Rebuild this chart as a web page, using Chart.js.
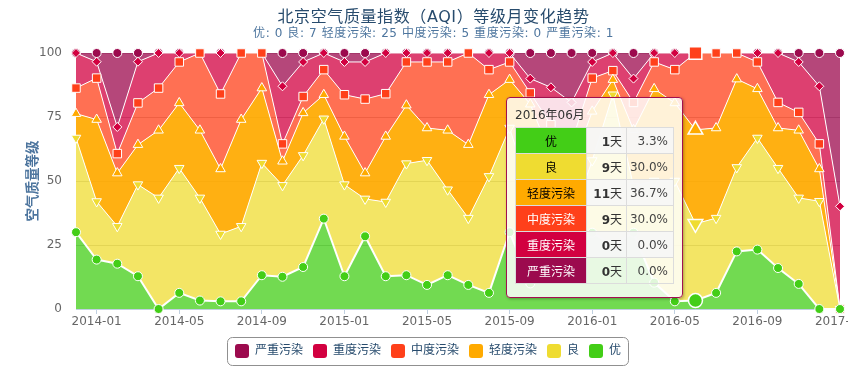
<!DOCTYPE html>
<html>
<head>
<meta charset="utf-8">
<script src="https://cdn.jsdelivr.net/npm/chart.js@4.4.1/dist/chart.umd.min.js"></script>
<style>
  html, body { margin: 0; padding: 0; background: #fff; }
  #wrap { position: relative; width: 867px; height: 376px; overflow: hidden; }
  #chart { position: absolute; left: 0; top: 0; }
  .txt { font-family: "DejaVu Sans", "Noto Sans CJK SC", sans-serif; }
  #title { position: absolute; left: 0; top: 7px; width: 867px; text-align: center; letter-spacing: 0.6px;
           font-size: 16px; line-height: 20px; color: #274b6d; white-space: nowrap; }
  #subtitle { position: absolute; left: 0; top: 25px; width: 867px; text-align: center; letter-spacing: 0.6px;
              font-size: 12px; line-height: 16px; color: #4d759e; white-space: nowrap; }
  #tip { position: absolute; left: 506px; top: 97px; width: 177px; height: 201px; box-sizing: border-box;
         border: 1px solid #a3104f; border-radius: 4px; background: rgba(255,255,255,0.84);
         box-shadow: 1px 1px 3px rgba(0,0,0,0.3); font-size: 12px; color: #333; }
  #tipTitle { position: absolute; left: 8px; top: 8px; line-height: 18px; color: #333; }
  #tipTable { position: absolute; left: 8px; top: 29px; border-collapse: collapse; }
  #tipTable td { border: 1px solid #dcdcdc; height: 26px; padding: 0; box-sizing: border-box; }
  #tipTable td.nm { width: 71px; text-align: center; }
  #tipTable td.dy { width: 40px; text-align: right; padding-right: 4px; color: #333; }
  #tipTable td.pc { width: 47px; text-align: right; padding-right: 5px; color: #444; }
  #tipTable tr:nth-child(odd) td.dy, #tipTable tr:nth-child(odd) td.pc { background: rgba(246,246,246,0.92); }
</style>
</head>
<body>
<div id="wrap">
  <canvas id="chart" width="867" height="376"></canvas>
  <div id="title" class="txt">北京空气质量指数（AQI）等级月变化趋势</div>
  <div id="subtitle" class="txt">优: 0 良: 7 轻度污染: 25 中度污染: 5 重度污染: 0 严重污染: 1</div>
  <div id="tip" class="txt"><div id="tipTitle"></div><table id="tipTable"></table></div>
</div>
<script>
// ---- data (percent of days in each month) ----
const months = ['2013-12','2014-01','2014-02','2014-03','2014-04','2014-05','2014-06','2014-07','2014-08','2014-09',
  '2014-10','2014-11','2014-12','2015-01','2015-02','2015-03','2015-04','2015-05','2015-06','2015-07',
  '2015-08','2015-09','2015-10','2015-11','2015-12','2016-01','2016-02','2016-03','2016-04','2016-05',
  '2016-06','2016-07','2016-08','2016-09','2016-10','2016-11','2016-12','2017-01'];
const excellent = [30, 19.3, 17.7, 12.8, 0, 6.3, 3.3, 3.0, 3.0, 13.2, 12.6, 16.4, 35.3, 12.8, 28.4, 12.8, 13.2, 9.4, 13.2, 9.4,
  6.3, 30, 10, 15, 20, 29.8, 25, 29.8, 10.3, 3.0, 3.3, 6.3, 22.5, 23.2, 16, 9.8, 0, 0];
const good = [36.8, 22.7, 14.6, 35.8, 43.4, 48.7, 40.1, 26.3, 29.3, 43.8, 35.7, 43.6, 39.0, 35.8, 14.6, 29.0, 43.6, 48.7, 33.4, 26.1,
  45.5, 40.7, 35, 20, 15, 28.2, 58.7, 18.2, 39.7, 47, 30.0, 29.2, 32.8, 43.6, 39, 33.6, 42.1, 0];
const lightPollution = [9.5, 32.0, 20.8, 15.6, 26.4, 25.5, 26.4, 25.4, 41.7, 29.3, 9.4, 16.6, 9.4, 18.8, 10.1, 25.6, 22.8, 12.6, 23.2, 28.7,
  31.9, 18.9, 35, 25, 20, 19.2, 5.9, 22, 36, 30.5, 36.7, 35.2, 34.5, 19.2, 15.7, 26.4, 12.6, 0];
const moderatePollution = [10.0, 16.2, 7.6, 16.3, 16.5, 16.0, 30.2, 29.3, 26.0, 13.7, 6.8, 6.4, 9.8, 16.3, 28.9, 16.7, 16.9, 25.8, 26.7, 35.8,
  9.8, 6.9, 4.4, 12, 10, 13.0, 3.5, 10.7, 10.5, 13, 30.0, 29.3, 10.2, 10.5, 10, 7.0, 9.8, 0];
const heavyPollution = [13.7, 6.4, 10.4, 16.1, 13.7, 3.5, 0, 16.0, 0, 0, 22.5, 13.5, 6.5, 12.8, 14.5, 15.9, 3.5, 3.5, 3.5, 0,
  6.5, 3.5, 5.6, 14.6, 15.7, 6.3, 6.9, 9.3, 3.5, 6.5, 0, 0, 0, 3.5, 19.3, 19.7, 22.5, 40.1];
const severePollution = [0, 3.4, 28.9, 3.4, 0, 0, 0, 0, 0, 0, 13.0, 3.5, 0, 3.5, 3.5, 0, 0, 0, 0, 0,
  0, 0, 10, 13.4, 19.3, 3.5, 0, 10, 0, 0, 0, 0, 0, 0, 0, 3.5, 13, 59.9];
const seriesNames = ['优', '良', '轻度污染', '中度污染', '重度污染', '严重污染'];
const yTicks = [0, 25, 50, 75, 100];
const hoverMonth = '2016-06';

// ---- styles ----
const palette = ['#43ce17', '#efdc31', '#ffaa00', '#ff401a', '#d20040', '#9c0a4e'];
const fillAlpha = [0.75, 0.75, 0.93, 0.75, 0.75, 0.75];
const textOnColor = ['#000', '#000', '#000', '#fff', '#fff', '#fff'];
const markerStyle = ['circle', 'triangle', 'triangle', 'rect', 'rectRot', 'circle'];
const markerRotation = [0, 180, 0, 0, 0, 0];
const markerRadius = [4.5, 5.5, 5.5, 6, 4.5, 4.5];
const markerHoverRadius = [7, 8.5, 8.5, 9, 6.5, 7];
const FONT = '"DejaVu Sans", "Noto Sans CJK SC", sans-serif';

function rgba(hex, a) {
  const n = parseInt(hex.slice(1), 16);
  return `rgba(${n >> 16},${(n >> 8) & 255},${n & 255},${a})`;
}

const seriesData = [excellent, good, lightPollution, moderatePollution, heavyPollution, severePollution];
const hi = months.indexOf(hoverMonth);

const datasets = seriesData.map((vals, k) => ({
  label: seriesNames[k],
  data: vals,
  backgroundColor: rgba(palette[k], fillAlpha[k]),
  borderColor: k === 5 ? 'rgba(255,255,255,0)' : '#ffffff',
  borderWidth: k === 0 ? 2 : 1,
  fill: k === 0 ? 'origin' : '-1',
  tension: 0,
  clip: false,
  pointStyle: markerStyle[k],
  rotation: markerRotation[k],
  pointBackgroundColor: palette[k],
  pointBorderColor: '#ffffff',
  pointBorderWidth: ctx => ctx.dataIndex === hi ? 1.5 : 1,
  pointRadius: ctx => ctx.dataIndex === hi ? markerHoverRadius[k] : markerRadius[k],
  pointHoverRadius: ctx => ctx.dataIndex === hi ? markerHoverRadius[k] : markerRadius[k]
}));

const frame = {
  id: 'frame',
  afterDraw(chart) {
    const ctx = chart.ctx;
    const hb = chart.legend.legendHitBoxes;
    let l = Infinity, r = -Infinity, t = Infinity, b = -Infinity;
    hb.forEach(h => { l = Math.min(l, h.left); r = Math.max(r, h.left + h.width); t = Math.min(t, h.top); b = Math.max(b, h.top + h.height); });
    ctx.save();
    ctx.strokeStyle = '#909090';
    ctx.lineWidth = 1;
    ctx.beginPath();
    ctx.roundRect(Math.round(l - 8) + 0.5, Math.round(t - 7) + 0.5, Math.round(r - l + 15), Math.round(b - t + 14), 5);
    ctx.stroke();
    // chart edge clips the last axis label as in the source
    ctx.fillStyle = '#ffffff';
    ctx.fillRect(848, chart.chartArea.bottom + 2, 19, 22);
    ctx.restore();
  }
};

new Chart(document.getElementById('chart'), {
  type: 'line',
  data: { labels: months, datasets },
  options: {
    responsive: false,
    animation: false,
    events: [],
    layout: { padding: { left: 16, right: 27, top: 53, bottom: 8 } },
    plugins: {
      title: { display: false },
      tooltip: { enabled: false },
      legend: {
        position: 'bottom',
        reverse: true,
        labels: {
          boxWidth: 14, boxHeight: 14, padding: 10,
          useBorderRadius: true, borderRadius: 3,
          color: '#274b6d',
          font: { family: FONT, size: 12 },
          generateLabels: chart => chart.data.datasets.map((d, i) => ({
            text: d.label, fillStyle: palette[i], strokeStyle: palette[i], lineWidth: 0,
            hidden: false, datasetIndex: i, borderRadius: 3, fontColor: '#274b6d'
          }))
        }
      }
    },
    scales: {
      x: {
        type: 'category',
        offset: false,
        grid: {
          drawOnChartArea: false, drawTicks: true, tickLength: 5,
          color: ctx => ((ctx.index - 1) % 4 === 0 ? '#C0D0E0' : 'rgba(0,0,0,0)')
        },
        border: { display: true, color: '#C0D0E0', width: 1 },
        ticks: {
          autoSkip: false, maxRotation: 0, minRotation: 0, padding: 1,
          color: '#666', font: { family: FONT, size: 12 },
          callback: function (v, i) { return (i - 1) % 4 === 0 ? months[i] : ''; }
        },
        afterFit: s => { s.height = 25; }
      },
      y: {
        stacked: true,
        min: 0, max: 100,
        afterBuildTicks: s => { s.ticks = yTicks.map(v => ({ value: v })); },
        grid: { color: '#C0C0C0', lineWidth: 1, drawTicks: false },
        border: { display: false },
        ticks: { padding: 14, color: '#666', font: { family: FONT, size: 12 } },
        title: {
          display: true, text: '空气质量等级', color: '#4d759e',
          font: { family: FONT, size: 13.5, weight: 'bold' },
          padding: { top: 9, bottom: 0 }
        },
        afterFit: s => { s.width = 60; }
      }
    }
  },
  plugins: [frame]
});

// ---- tooltip for the highlighted month (built from the same arrays) ----
(function buildTip() {
  const [yy, mm] = hoverMonth.split('-').map(Number);
  const days = new Date(yy, mm, 0).getDate();
  const counts = seriesData.map(s => Math.round(s[hi] / 100 * days));
  const total = counts.reduce((a, b) => a + b, 0);
  document.getElementById('tipTitle').textContent = yy + '年' + String(mm).padStart(2, '0') + '月';
  const tbl = document.getElementById('tipTable');
  seriesNames.forEach((n, k) => {
    const tr = document.createElement('tr');
    tr.innerHTML = `<td class="nm" style="background:${palette[k]};color:${textOnColor[k]}">${n}</td>` +
      `<td class="dy"><b>${counts[k]}</b>天</td>` +
      `<td class="pc">${(counts[k] / total * 100).toFixed(1)}%</td>`;
    tbl.appendChild(tr);
  });
})();
</script>
</body>
</html>
